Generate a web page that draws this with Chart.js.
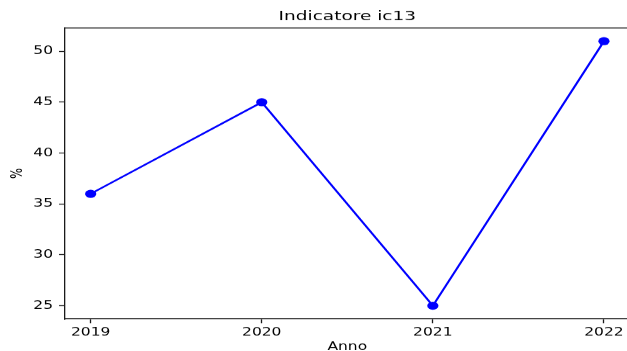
<!DOCTYPE html>
<html>
<head>
<meta charset="utf-8">
<script src="https://cdn.jsdelivr.net/npm/chart.js@4/dist/chart.umd.min.js"></script>
<style>
  html, body { margin: 0; padding: 0; background: #fff; width: 627px; height: 351px; overflow: hidden; }
  #wrap { position: absolute; left: 0; top: 0; width: 640px; height: 500px;
          transform: scale(1, 0.72); transform-origin: 0 0; }
</style>
</head>
<body>
<div id="wrap"><canvas id="chart" width="640" height="500"></canvas></div>
<script>
// Data
const years = [2019, 2020, 2021, 2022];
const values = [36, 45, 25, 51];
const yTicks = [25, 30, 35, 40, 45, 50];

const titleText = 'Indicatore ic13';
const xTitle = 'Anno';
const yTitle = '%';

// 5% margin around the data on both axes
const xSpan = years[years.length - 1] - years[0];
const xMin = years[0] - 0.05 * xSpan;
const xMax = years[years.length - 1] + 0.05 * xSpan;
const yLo = Math.min(...values), yHi = Math.max(...values);
const yMin = yLo - 0.05 * (yHi - yLo);
const yMax = yHi + 0.05 * (yHi - yLo);

const FONT = 'DejaVu Sans';
const TEXT = '#000';
const AXIS = '#1a1a1a';

// Frame on the top and right sides of the plot area
const frame = {
  id: 'frame',
  afterDraw(chart) {
    const { ctx, chartArea: a } = chart;
    ctx.save();
    ctx.strokeStyle = AXIS;
    ctx.lineWidth = 1.3;
    ctx.beginPath();
    ctx.moveTo(a.left, a.top);
    ctx.lineTo(a.right, a.top);
    ctx.lineTo(a.right, a.bottom);
    ctx.stroke();
    ctx.restore();
  }
};

new Chart(document.getElementById('chart'), {
  type: 'line',
  data: {
    datasets: [{
      data: years.map((y, i) => ({ x: y, y: values[i] })),
      borderColor: '#0000ff',
      backgroundColor: '#0000ff',
      borderWidth: 2.3,
      pointRadius: 5.6,
      pointBorderWidth: 0,
      pointBackgroundColor: '#0000ff',
      tension: 0,
      fill: false
    }]
  },
  options: {
    responsive: false,
    animation: false,
    devicePixelRatio: 1,
    layout: { padding: { left: 0, right: 10.4, top: 0, bottom: 0 } },
    plugins: {
      legend: { display: false },
      tooltip: { enabled: false },
      title: {
        display: true,
        text: titleText,
        fullSize: false,
        color: TEXT,
        font: { family: FONT, size: 18.5, weight: 'normal' },
        padding: { top: 12, bottom: 4.6 }
      }
    },
    scales: {
      x: {
        type: 'linear',
        min: xMin,
        max: xMax,
        afterBuildTicks: s => { s.ticks = years.map(v => ({ value: v })); },
        afterFit: s => { s.height = 57; },
        ticks: {
          callback: v => String(v),
          color: TEXT,
          font: { family: FONT, size: 15.5 },
          padding: 4,
          maxRotation: 0,
          autoSkip: false
        },
        grid: { display: true, drawOnChartArea: false, drawTicks: true, tickLength: 6, color: AXIS, tickWidth: 1.3 },
        border: { display: true, color: AXIS, width: 1.3 },
        title: {
          display: true,
          text: xTitle,
          color: TEXT,
          font: { family: FONT, size: 15.5 },
          padding: { top: 0, bottom: 8.3 }
        }
      },
      y: {
        type: 'linear',
        min: yMin,
        max: yMax,
        afterBuildTicks: s => { s.ticks = yTicks.map(v => ({ value: v })); },
        afterFit: s => { s.width = 65; },
        ticks: {
          callback: v => String(v),
          color: TEXT,
          font: { family: FONT, size: 15.5 },
          padding: 6,
          autoSkip: false
        },
        grid: { display: true, drawOnChartArea: false, drawTicks: true, tickLength: 6, color: AXIS, tickWidth: 1.3 },
        border: { display: true, color: AXIS, width: 1.3 },
        title: {
          display: true,
          text: yTitle,
          color: TEXT,
          font: { family: FONT, size: 15.5 },
          padding: { top: 8.7, bottom: 0 }
        }
      }
    }
  },
  plugins: [frame]
});
</script>
</body>
</html>
